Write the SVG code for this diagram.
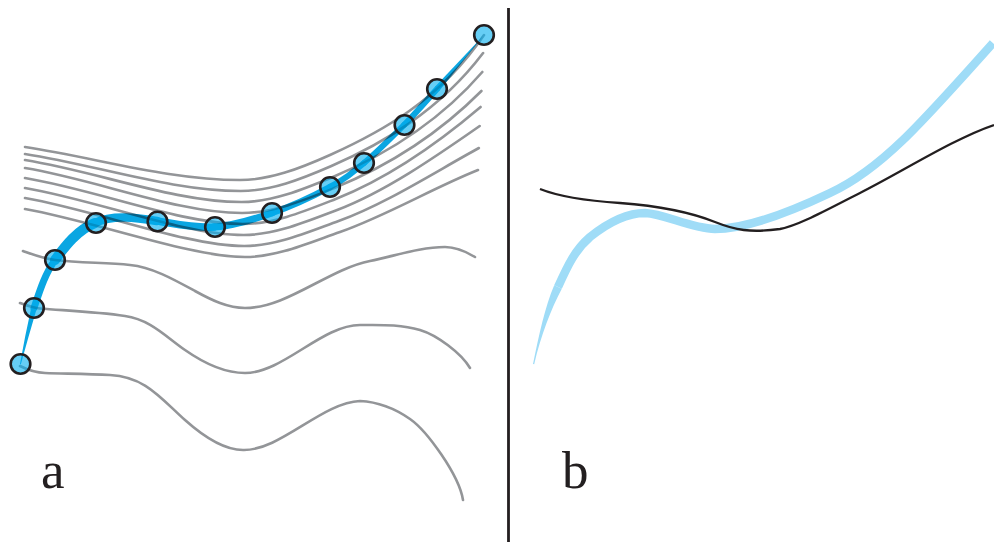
<svg xmlns="http://www.w3.org/2000/svg" width="994" height="542" viewBox="0 0 994 542">
<style>
.g{fill:none;stroke:#939598;stroke-width:2.6;stroke-linecap:round;mix-blend-mode:multiply}
.b{fill:none;stroke:#0aa6e2;stroke-linecap:round}
.bf{fill:#0aa6e2}
.pt{fill:#00aeef;fill-opacity:0.6;stroke:#231f20;stroke-width:2.6}
.lbl{font-family:"Liberation Serif","Times New Roman",serif;font-size:53px;fill:#231f20}
</style>
<rect width="994" height="542" fill="#ffffff"/>
<g id="panel-a">
  <g id="trajectory">
    <path class="bf" d="M20,364 Q25,336 31.4,307.1 L36.6,308.9 Q28,338 20.8,364.4 Z"/>
    <path class="b" stroke-width="7" d="M34,308 C39.8,290.7 44.8,274.2 55,260"/>
    <path class="b" stroke-width="10" d="M55,260 C65.2,245.8 78,229.5 95,223"/>
    <path class="b" stroke-width="8.5" d="M95,223 C113,214 138,218 157,221"/>
    <path class="b" stroke-width="7.5" d="M157,221 C176,224 194.8,228.3 214,227"/>
    <path class="b" stroke-width="7" d="M214,227 C233.2,225.7 252.7,219.7 272,213"/>
    <path class="b" stroke-width="6.5" d="M272,213 C291.3,206.3 314.7,195.3 330,187"/>
    <path class="b" stroke-width="6" d="M330,187 C345.3,178.7 351.7,173.3 364,163"/>
    <path class="b" stroke-width="6" d="M364,163 C376.3,152.7 391.8,137.3 404,125"/>
    <path class="b" stroke-width="6" d="M404,125 C416.2,112.7 423.7,104 437,89"/>
    <path class="bf" d="M434.8,87 L484,35 L439.2,91 Z"/>
  </g>
  <g id="gray-lines">
    <path class="g" d="M25,147 C97.5,158 168,180 240,180 C270,180 300,168.5 330,155 C381,132 440,100 484,35"/>
    <path class="g" d="M25,154 C97.5,165.3 171.1,191 240.7,191 C271,191 301.1,179.2 331.4,166 C381.7,144 438.9,111.3 483.1,53"/>
    <path class="g" d="M25,160 C97.5,171.6 174.3,202 241.4,202 C272,202 302.3,189.8 332.9,177 C382.4,156 437.7,123.7 482.3,72"/>
    <path class="g" d="M25,168 C97.5,179.9 177.4,213 242.1,213 C273,213 303.4,200.5 334.3,188 C383.1,168 436.6,136 481.4,91"/>
    <path class="g" d="M25,178 C97.5,190.1 180.6,224 242.9,224 C274,224 304.6,211.2 335.7,199 C383.9,179.9 435.4,145.4 480.6,107"/>
    <path class="g" d="M25,188 C97.5,200.4 183.7,235 243.6,235 C275,235 305.7,221.9 337.1,210 C384.6,191.9 434.3,157.7 479.7,126"/>
    <path class="g" d="M25,198 C97.5,210.7 186.9,246 244.3,246 C276,246 306.9,232.5 338.6,221 C385.3,203.9 433.1,173.1 478.9,148"/>
    <path class="g" d="M25,209 C97.5,222 190,257 245,257 C277,257 308,243.2 340,232 C386,215.9 432,188.4 478,170"/>
    <path class="g" d="M23,251 C34,254.9 44,258.7 55,260 C80,263 105,262.5 130,265 C152,267.2 173,278.9 195,291 C212,300.4 228,308 245,308 C287,308 328,269.4 370,261 C395,256 420,247 445,247 C455,247 465,251 475,257"/>
    <path class="g" d="M20,303 C27,305.5 33,307.9 40,308.5 C68,310.7 97,311.8 125,316 C150,319.5 165,336 185,350 C205,364 225,373 245,373 C283,373 322,325 360,325 C380,325 400,324 420,330 C437,335.1 461,353 470,368"/>
    <path class="g" d="M20,366 C28,370 37,372.8 45,373 C67,373.7 88,373.9 110,375 C145,376.8 160,397.5 185,420 C204,437 224,450 243,450 C280,451 322,402.5 360,401 C377,401.9 393,407.1 410,419 C427,430.9 459,475 463,500"/>
  </g>
  <g id="samples">
    <circle id="s1" class="pt" cx="20.5" cy="364" r="9.8"/>
    <circle id="s2" class="pt" cx="34" cy="308" r="9.8"/>
    <circle id="s3" class="pt" cx="55" cy="260" r="9.8"/>
    <circle id="s4" class="pt" cx="96" cy="223" r="9.8"/>
    <circle id="s5" class="pt" cx="157.5" cy="221.5" r="9.8"/>
    <circle id="s6" class="pt" cx="215" cy="227" r="9.8"/>
    <circle id="s7" class="pt" cx="272" cy="213" r="9.8"/>
    <circle id="s8" class="pt" cx="330" cy="187" r="9.8"/>
    <circle id="s9" class="pt" cx="364" cy="163" r="9.8"/>
    <circle id="s10" class="pt" cx="404.5" cy="125" r="9.8"/>
    <circle id="s11" class="pt" cx="437" cy="89" r="9.8"/>
    <circle id="s12" class="pt" cx="484" cy="35" r="9.8"/>
  </g>
  <text class="lbl" x="41" y="488">a</text>
</g>
<line id="divider" x1="508.5" y1="8" x2="508.5" y2="542" stroke="#231f20" stroke-width="2.8"/>
<g id="panel-b">
  <path fill="#9fdcf7" d="M533,364 C539,335 545,306.6 554.2,285.2 L561.8,288.8 C551,309.4 541,335 534.2,364.2 Z"/>
  <path fill="none" stroke="#9fdcf7" stroke-width="8.5" d="M558,287 C568,265 575,250 590,237 C605,225 625,213 645,213 C665,214 690,228 715,229 C745,229 790,212 830,193 C880,170 920,125 993,43"/>
  <path fill="none" stroke="#231f20" stroke-width="2.3" d="M540,189 C560,197 590,201 620,203 C660,206 690,212 715,222 C735,230 750,233 780,229 C800,225 830,208 860,193 C900,173 955,138 994,125"/>
  <text class="lbl" x="562" y="488">b</text>
</g>
</svg>
